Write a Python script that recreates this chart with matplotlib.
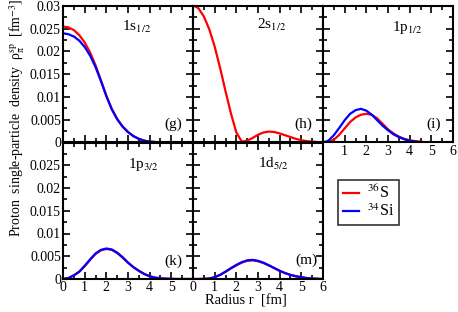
import numpy as np
import matplotlib
matplotlib.use("Agg")
import matplotlib.pyplot as plt
from matplotlib.ticker import MultipleLocator

plt.rcParams['font.family'] = 'serif'
plt.rcParams['font.serif'] = ['Liberation Serif', 'DejaVu Serif']
plt.rcParams['mathtext.fontset'] = 'stix'

# radius grid (fm), step 0.25
r = np.linspace(0, 6, 25)

# values (fm^-3)
s1_S = [0.0255, 0.0253, 0.0247, 0.0236, 0.0220, 0.0198, 0.0170, 0.0137, 0.0103,
        0.0074, 0.0052, 0.0035, 0.0023, 0.0014, 0.0008, 0.0004, 0.0002, 0.0001,
        0.00005, 0, 0, 0, 0, 0, 0]
s1_Si = [0.0240, 0.0238, 0.0233, 0.0224, 0.0210, 0.0191, 0.0166, 0.0135, 0.0102,
         0.0073, 0.0051, 0.0035, 0.0023, 0.0014, 0.0008, 0.0004, 0.0002, 0.0001,
         0.00005, 0, 0, 0, 0, 0, 0]
s2_S = [0.0302, 0.0295, 0.0277, 0.0249, 0.0211, 0.0164, 0.0113, 0.0064, 0.0022,
        0.0002, 0.0004, 0.0010, 0.0017, 0.0022, 0.0024, 0.0023, 0.0020, 0.0016,
        0.0012, 0.0008, 0.0005, 0.0003, 0.0002, 0.0001, 0.0]
p12_S = [0, 0.0001, 0.0006, 0.0017, 0.0031, 0.0045, 0.0055, 0.0061, 0.0063,
         0.0061, 0.0053, 0.0041, 0.0029, 0.0020, 0.0013, 0.0008, 0.0005, 0.0003,
         0.00015, 0.00008, 0.00004, 0, 0, 0, 0]
p12_Si = [0, 0.0004, 0.0016, 0.0032, 0.0049, 0.0063, 0.0071, 0.0074, 0.0070,
          0.0061, 0.0049, 0.0037, 0.0027, 0.0018, 0.0012, 0.0007, 0.0004, 0.0002,
          0.0001, 0.00006, 0.00003, 0, 0, 0, 0]
p32_S = [0, 0.0002, 0.0008, 0.0016, 0.0028, 0.0042, 0.0055, 0.0063, 0.0066,
         0.0064, 0.0057, 0.0047, 0.0036, 0.0026, 0.0018, 0.0011, 0.0006, 0.0003,
         0.00015, 0.00007, 0.00003, 0, 0, 0, 0]
p32_Si = [0, 0.0002, 0.0008, 0.0016, 0.0029, 0.0043, 0.0056, 0.0064, 0.0067,
          0.0065, 0.0058, 0.0048, 0.0036, 0.0026, 0.0018, 0.0011, 0.0006, 0.0003,
          0.00015, 0.00007, 0.00003, 0, 0, 0, 0]
d52_S = [0, 0, 0.00003, 0.0001, 0.0004, 0.0009, 0.0016, 0.0023, 0.0030, 0.0036,
         0.0040, 0.0041, 0.0039, 0.0035, 0.0030, 0.0024, 0.0018, 0.0013, 0.0009,
         0.0006, 0.0004, 0.0002, 0.0001, 0.00005, 0]
d52_Si = [0, 0, 0.00003, 0.0001, 0.0004, 0.0009, 0.0016, 0.0024, 0.0031, 0.0037,
          0.0041, 0.0042, 0.0040, 0.0036, 0.0030, 0.0024, 0.0018, 0.0013, 0.0009,
          0.0006, 0.0004, 0.0002, 0.0001, 0.00005, 0]

states = ['1s$_{1/2}$', '2s$_{1/2}$', '1p$_{1/2}$', '1p$_{3/2}$', '1d$_{5/2}$']
tags = ['(g)', '(h)', '(i)', '(k)', '(m)']
curves = [(s1_S, s1_Si), (s2_S, None), (p12_S, p12_Si), (p32_S, p32_Si), (d52_S, d52_Si)]

fig = plt.figure(figsize=(4.58, 3.12), dpi=100)
W, H = 458.0, 312.0
xs = [63, 193, 323]
pw, ph = 130, 136.5
rows = [6, 142.5]
boxes = [(xs[0], rows[0]), (xs[1], rows[0]), (xs[2], rows[0]),
         (xs[0], rows[1]), (xs[1], rows[1])]
label_pos = [(0.45, 0.815), (0.49, 0.83), (0.53, 0.815), (0.5, 0.815), (0.5, 0.815)]
tag_pos = [(0.915, 0.13), (0.915, 0.13), (0.905, 0.13), (0.915, 0.128), (0.955, 0.14)]

ylab = ['0', '0.005', '0.01', '0.015', '0.02', '0.025', '0.03']

for k, (x0, y0) in enumerate(boxes):
    ax = fig.add_axes([x0 / W, 1 - (y0 + ph) / H, pw / W, ph / H])
    red, blue = curves[k]
    ax.plot(r, red, color='red', lw=1.6, label='$^{36}$S')
    if blue is not None:
        ax.plot(r, blue, color='blue', lw=1.6, label='$^{34}$Si')
    ax.set_xlim(0, 6)
    ax.set_ylim(0, 0.03)
    ax.xaxis.set_major_locator(MultipleLocator(1))
    ax.xaxis.set_minor_locator(MultipleLocator(0.5))
    ax.yaxis.set_major_locator(MultipleLocator(0.005))
    ax.yaxis.set_minor_locator(MultipleLocator(0.0025))
    ax.tick_params(which='both', direction='in', top=True, right=True,
                   labelsize=10, width=1.2, pad=1.5)
    ax.tick_params(which='major', length=5)
    ax.tick_params(which='minor', length=3)
    for sp in ax.spines.values():
        sp.set_linewidth(1.5)
    # tick labels
    if k in (0, 3):
        labs = ylab if k == 0 else ylab[:-1] + ['']
        ax.set_yticks(np.arange(7) * 0.005)
        ax.set_yticklabels(labs)
    else:
        ax.set_yticklabels([])
    if k == 2:
        ax.set_xticks(range(7))
        ax.set_xticklabels([''] + [str(i) for i in range(1, 7)])
    elif k == 3:
        ax.set_xticks(range(7))
        ax.set_xticklabels([str(i) for i in range(6)] + [''])
    elif k == 4:
        ax.set_xticks(range(7))
        ax.set_xticklabels([str(i) for i in range(7)])
    else:
        ax.set_xticklabels([])
    ax.text(label_pos[k][0], label_pos[k][1], states[k], transform=ax.transAxes,
            fontsize=11, ha='left', va='baseline')
    ax.text(tag_pos[k][0], tag_pos[k][1], tags[k], transform=ax.transAxes,
            fontsize=11, ha='right', va='center')
    if k == 0:
        handles, names = ax.get_legend_handles_labels()

leg = fig.legend(handles, names, loc='upper left',
                 bbox_to_anchor=(338 / W, 1 - 180 / H), fontsize=11.5,
                 frameon=True, fancybox=False, edgecolor='black',
                 handlelength=1.0, handletextpad=0.5, borderpad=0.3,
                 labelspacing=0.1, borderaxespad=0)
leg.get_frame().set_linewidth(1.2)

fig.text(17 / W, 1 - 118 / H,
         r'Proton  single-particle  density  ρ$_{\mathrm{\pi}}^{\mathrm{sp}}$  [fm$^{-3}$]',
         rotation=90, ha='center', va='center', fontsize=10)
fig.text(246 / W, 1 - 301 / H, 'Radius r  [fm]', ha='center', va='center', fontsize=10.5)

fig.savefig('out.png', dpi=100)
